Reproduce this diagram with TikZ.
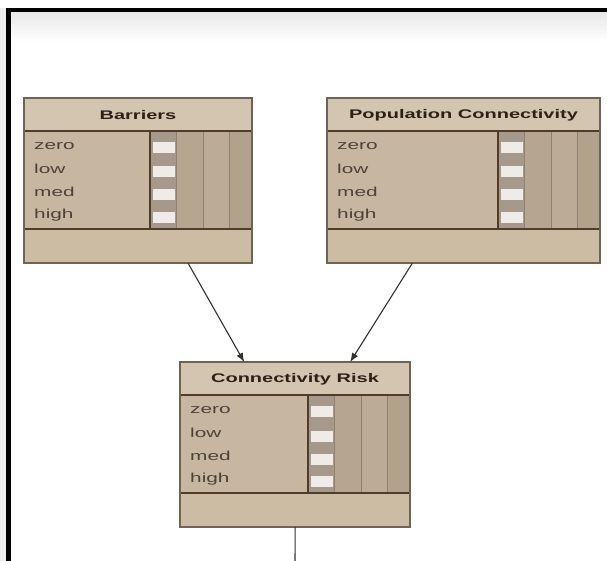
\documentclass[tikz,border=0pt]{standalone}
\usepackage{fontspec}
\setmainfont{Liberation Sans}
\newfontfamily\nfont[FakeStretch=1.6]{Liberation Sans}
\usetikzlibrary{arrows.meta}
\definecolor{titlefill}{RGB}{212,197,176}
\definecolor{statefill}{RGB}{200,183,160}
\definecolor{botfill}{RGB}{205,188,164}
\definecolor{colgray}{RGB}{166,153,139}
\definecolor{colA}{RGB}{182,165,143}
\definecolor{colB}{RGB}{188,172,150}
\definecolor{colC}{RGB}{178,161,139}
\definecolor{barwhite}{RGB}{238,235,232}
\definecolor{bordercol}{RGB}{112,98,84}
\definecolor{sepcol}{RGB}{80,60,40}
\definecolor{txtcol}{RGB}{45,32,22}
\definecolor{linkcol}{RGB}{50,50,50}
\tikzset{
  boxnode/.style={draw=none,inner sep=0pt,anchor=north west,minimum height=165pt},
  titletext/.style={font=\nfont\bfseries\fontsize{12.5}{14}\selectfont,text=txtcol,inner sep=0pt},
  statetext/.style={font=\nfont\fontsize{13}{14}\selectfont,text=txtcol!85,inner sep=0pt,anchor=west},
  border/.style={draw=bordercol,line width=1.3pt},
  sepline/.style={draw=sepcol,line width=1.2pt},
  septhick/.style={draw=sepcol,line width=2pt},
  vline/.style={draw=bordercol!80,line width=0.9pt},
  bar/.style={fill=barwhite,draw=none},
  arr/.style={draw=linkcol,line width=1.1pt,-{Latex[length=9pt,width=7pt]}},
  link/.style={draw=linkcol,line width=1.1pt},
}
\newcommand\nbox[5]{%
\begin{scope}[shift={(#2,#3)}]
  \pgfmathsetmacro\bw{#4-#2}
  \pgfmathsetmacro\bc{\bw-102}
  \node[boxnode,minimum width=\bw pt] (#1) at (0,0) {};
  \fill[statefill] (0,0) rectangle (\bw,165);
  \fill[titlefill] (0,0) rectangle (\bw,33);
  \fill[botfill] (0,131) rectangle (\bw,165);
  \fill[colgray] (\bc,33) rectangle (\bc+26,131);
  \fill[colA] (\bc+26,33) rectangle (\bc+53,131);
  \fill[colB] (\bc+53,33) rectangle (\bc+79,131);
  \fill[colC] (\bc+79,33) rectangle (\bw,131);
  \foreach \yy in {49.5,74,97,119.5} {\path[bar] (\bc+3,\yy-5.5) rectangle (\bc+25,\yy+5.5);}
  \draw[vline] (\bc+26,33) -- (\bc+26,131);
  \draw[vline] (\bc+53,33) -- (\bc+53,131);
  \draw[vline] (\bc+79,33) -- (\bc+79,131);
  \draw[sepline] (\bc,33) -- (\bc,131);
  \draw[sepline] (0,33) -- (\bw,33);
  \draw[sepline] (0,131) -- (\bc,131);
  \draw[septhick] (\bc,131) -- (\bw,131);
  \draw[border] (0,0) rectangle (\bw,165);
  \node[titletext] (#1-t) at (\bw/2,17) {#5};
  \node[statetext] (#1-zero) at (10,48) {zero};
  \node[statetext] (#1-low) at (10,71) {low};
  \node[statetext] (#1-med) at (10,94) {med};
  \node[statetext] (#1-high) at (10,117) {high};
\end{scope}}
\begin{document}
\begin{tikzpicture}[x=1pt,y=-1pt]
  \useasboundingbox (0,0) rectangle (607,561);
  \fill[white] (0,0) rectangle (607,561);
  \fill[black!7] (0,8) rectangle (6.5,561);
  \shade[top color=black!9,bottom color=white] (11,12) rectangle (607,42);
  \draw[black,line width=4.5pt] (8.5,561) -- (8.5,10) -- (607,10);
  \nbox{bar}{24}{98}{252}{Barriers}
  \nbox{pop}{327}{98}{600}{Population Connectivity}
  \nbox{cr}{180}{362}{410}{Connectivity Risk}
  \draw[arr] ([xshift=50pt]bar.south) -- ([xshift=-51pt]cr.north);
  \draw[arr] ([xshift=-51.5pt]pop.south) -- ([xshift=55pt]cr.north);
  \coordinate (crout) at (295,561);
  \draw[link] (cr.south) -- (crout);
\end{tikzpicture}
\end{document}
